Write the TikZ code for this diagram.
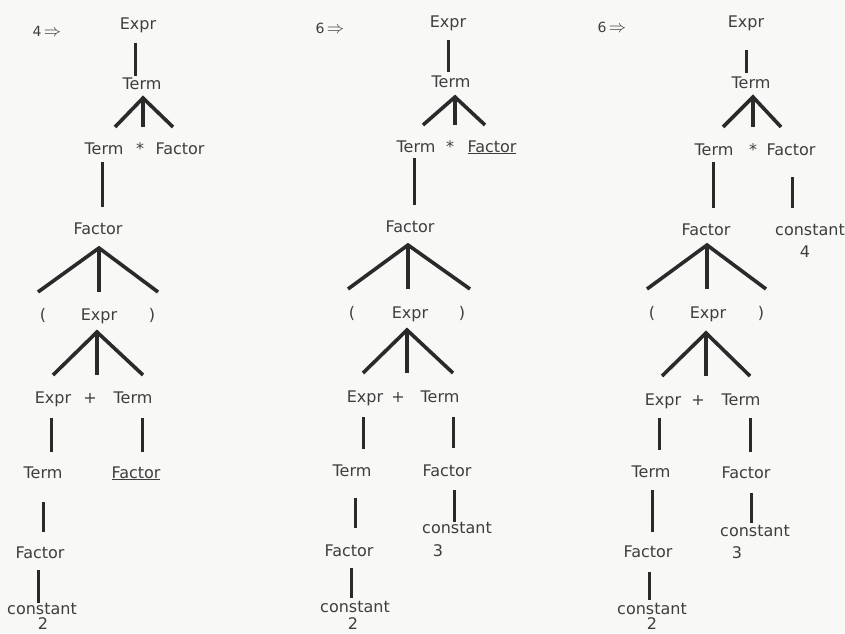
\documentclass[tikz,border=0pt]{standalone}
\usepackage{fontspec}
\setmainfont{DejaVu Sans}
\begin{document}
\definecolor{ink}{HTML}{3E3E3E}
\definecolor{stroke}{HTML}{2A2A2A}
\definecolor{paper}{HTML}{F8F8F6}
\begin{tikzpicture}[x=1pt,y=-1pt,
  sym/.style={anchor=base,inner sep=0pt,text=ink,font=\fontsize{16}{19}\selectfont},
  steplbl/.style={anchor=center,inner sep=0pt,text=ink,font=\fontsize{14}{16}\selectfont},
  edge/.style={draw=stroke,line width=3pt},
  fork/.style={draw=stroke,line width=3.6pt,line join=miter}]
\useasboundingbox (0,0) rectangle (845,633);
\fill[paper] (0,0) rectangle (845,633);

% ---------------- first derivation ----------------
\node[steplbl] (s1) at (47,31) {4\,{\fontsize{17}{17}\selectfont$\Rightarrow$}};
\node[sym] (a1) at (138,29) {Expr};
\coordinate (a1d) at (135,43); \coordinate (b1u) at (135,76);
\draw[edge] (a1d) -- (b1u);
\node[sym] (b1) at (142,89) {Term};
\coordinate (b1x) at (143,98);
\coordinate (b1l) at (115,127); \coordinate (b1m) at (143,127); \coordinate (b1r) at (173,127);
\draw[fork] (b1l) -- (b1x) -- (b1r); \draw[fork] (b1x) -- (b1m);
\node[sym] (c1) at (104,154) {Term};
\node[sym] (c1s) at (140,154) {*};
\node[sym] (c1f) at (180,154) {Factor};
\coordinate (c1d) at (102,162); \coordinate (d1u) at (102,207);
\draw[edge] (c1d) -- (d1u);
\node[sym] (d1) at (98,234) {Factor};
\coordinate (d1x) at (99,248);
\coordinate (d1l) at (38,292); \coordinate (d1m) at (99,292); \coordinate (d1r) at (158,292);
\draw[fork] (d1l) -- (d1x) -- (d1r); \draw[fork] (d1x) -- (d1m);
\node[sym] (e1l) at (43,320) {(};
\node[sym] (e1) at (99,320) {Expr};
\node[sym] (e1r) at (152,320) {)};
\coordinate (e1x) at (97,332);
\coordinate (e1a) at (53,375); \coordinate (e1b) at (97,375); \coordinate (e1c) at (143,375);
\draw[fork] (e1a) -- (e1x) -- (e1c); \draw[fork] (e1x) -- (e1b);
\node[sym] (g1) at (53,403) {Expr};
\node[sym] (g1p) at (90,403) {+};
\node[sym] (g1t) at (133,403) {Term};
\coordinate (g1d) at (51,418); \coordinate (h1u) at (51,452);
\coordinate (g1td) at (142,418); \coordinate (h1fu) at (142,452);
\draw[edge] (g1d) -- (h1u); \draw[edge] (g1td) -- (h1fu);
\node[sym] (h1) at (43,478) {Term};
\node[sym] (h1f) at (136,478) {\underline{Factor}};
\coordinate (h1d) at (43,502); \coordinate (i1u) at (43,532);
\draw[edge] (h1d) -- (i1u);
\node[sym] (i1) at (40,558) {Factor};
\coordinate (i1d) at (38,570); \coordinate (j1u) at (38,603);
\draw[edge] (i1d) -- (j1u);
\node[sym] (j1) at (42,614) {constant};
\node[sym] (j1v) at (43,629) {2};

% ---------------- second derivation ----------------
\node[steplbl] (s2) at (330,28) {6\,{\fontsize{17}{17}\selectfont$\Rightarrow$}};
\node[sym] (a2) at (448,27) {Expr};
\coordinate (a2d) at (448,40); \coordinate (b2u) at (448,72);
\draw[edge] (a2d) -- (b2u);
\node[sym] (b2) at (451,87) {Term};
\coordinate (b2x) at (455,97);
\coordinate (b2l) at (423,125); \coordinate (b2m) at (455,125); \coordinate (b2r) at (485,125);
\draw[fork] (b2l) -- (b2x) -- (b2r); \draw[fork] (b2x) -- (b2m);
\node[sym] (c2) at (416,152) {Term};
\node[sym] (c2s) at (450,152) {*};
\node[sym] (c2f) at (492,152) {\underline{Factor}};
\coordinate (c2d) at (414,158); \coordinate (d2u) at (414,205);
\draw[edge] (c2d) -- (d2u);
\node[sym] (d2) at (410,232) {Factor};
\coordinate (d2x) at (408,245);
\coordinate (d2l) at (348,289); \coordinate (d2m) at (408,289); \coordinate (d2r) at (470,289);
\draw[fork] (d2l) -- (d2x) -- (d2r); \draw[fork] (d2x) -- (d2m);
\node[sym] (e2l) at (352,318) {(};
\node[sym] (e2) at (410,318) {Expr};
\node[sym] (e2r) at (462,318) {)};
\coordinate (e2x) at (407,330);
\coordinate (e2a) at (363,373); \coordinate (e2b) at (407,373); \coordinate (e2c) at (453,373);
\draw[fork] (e2a) -- (e2x) -- (e2c); \draw[fork] (e2x) -- (e2b);
\node[sym] (g2) at (365,402) {Expr};
\node[sym] (g2p) at (398,402) {+};
\node[sym] (g2t) at (440,402) {Term};
\coordinate (g2d) at (363,417); \coordinate (h2u) at (363,449);
\coordinate (g2td) at (453,417); \coordinate (h2fu) at (453,448);
\draw[edge] (g2d) -- (h2u); \draw[edge] (g2td) -- (h2fu);
\node[sym] (h2) at (352,476) {Term};
\node[sym] (h2f) at (447,476) {Factor};
\coordinate (h2d) at (355,498); \coordinate (i2u) at (355,528);
\draw[edge] (h2d) -- (i2u);
\coordinate (h2fd) at (454,490); \coordinate (k2u) at (454,522);
\draw[edge] (h2fd) -- (k2u);
\node[sym] (k2) at (457,533) {constant};
\node[sym] (k2v) at (438,556) {3};
\node[sym] (i2) at (349,556) {Factor};
\coordinate (i2d) at (351,568); \coordinate (j2u) at (351,598);
\draw[edge] (i2d) -- (j2u);
\node[sym] (j2) at (355,612) {constant};
\node[sym] (j2v) at (353,629) {2};

% ---------------- third derivation ----------------
\node[steplbl] (s3) at (612,27) {6\,{\fontsize{17}{17}\selectfont$\Rightarrow$}};
\node[sym] (a3) at (746,27) {Expr};
\coordinate (a3d) at (746,50); \coordinate (b3u) at (746,73);
\draw[edge] (a3d) -- (b3u);
\node[sym] (b3) at (751,88) {Term};
\coordinate (b3x) at (753,97);
\coordinate (b3l) at (723,127); \coordinate (b3m) at (753,127); \coordinate (b3r) at (781,127);
\draw[fork] (b3l) -- (b3x) -- (b3r); \draw[fork] (b3x) -- (b3m);
\node[sym] (c3) at (714,155) {Term};
\node[sym] (c3s) at (753,155) {*};
\node[sym] (c3f) at (791,155) {Factor};
\coordinate (c3d) at (713,162); \coordinate (d3u) at (713,208);
\draw[edge] (c3d) -- (d3u);
\coordinate (c3fd) at (792,177); \coordinate (m3u) at (792,208);
\draw[edge] (c3fd) -- (m3u);
\node[sym] (d3) at (706,235) {Factor};
\node[sym] (m3) at (810,235) {constant};
\node[sym] (m3v) at (805,257) {4};
\coordinate (d3x) at (707,245);
\coordinate (d3l) at (647,289); \coordinate (d3m) at (707,289); \coordinate (d3r) at (766,289);
\draw[fork] (d3l) -- (d3x) -- (d3r); \draw[fork] (d3x) -- (d3m);
\node[sym] (e3l) at (652,318) {(};
\node[sym] (e3) at (708,318) {Expr};
\node[sym] (e3r) at (761,318) {)};
\coordinate (e3x) at (706,333);
\coordinate (e3a) at (662,376); \coordinate (e3b) at (706,376); \coordinate (e3c) at (750,376);
\draw[fork] (e3a) -- (e3x) -- (e3c); \draw[fork] (e3x) -- (e3b);
\node[sym] (g3) at (663,405) {Expr};
\node[sym] (g3p) at (698,405) {+};
\node[sym] (g3t) at (741,405) {Term};
\coordinate (g3d) at (659,418); \coordinate (h3u) at (659,450);
\coordinate (g3td) at (750,418); \coordinate (h3fu) at (750,452);
\draw[edge] (g3d) -- (h3u); \draw[edge] (g3td) -- (h3fu);
\node[sym] (h3) at (651,477) {Term};
\node[sym] (h3f) at (746,478) {Factor};
\coordinate (h3d) at (652,490); \coordinate (i3u) at (652,532);
\draw[edge] (h3d) -- (i3u);
\coordinate (h3fd) at (751,493); \coordinate (k3u) at (751,523);
\draw[edge] (h3fd) -- (k3u);
\node[sym] (k3) at (755,536) {constant};
\node[sym] (k3v) at (737,558) {3};
\node[sym] (i3) at (648,557) {Factor};
\coordinate (i3d) at (649,572); \coordinate (j3u) at (649,600);
\draw[edge] (i3d) -- (j3u);
\node[sym] (j3) at (652,614) {constant};
\node[sym] (j3v) at (652,629) {2};
\end{tikzpicture}
\end{document}
